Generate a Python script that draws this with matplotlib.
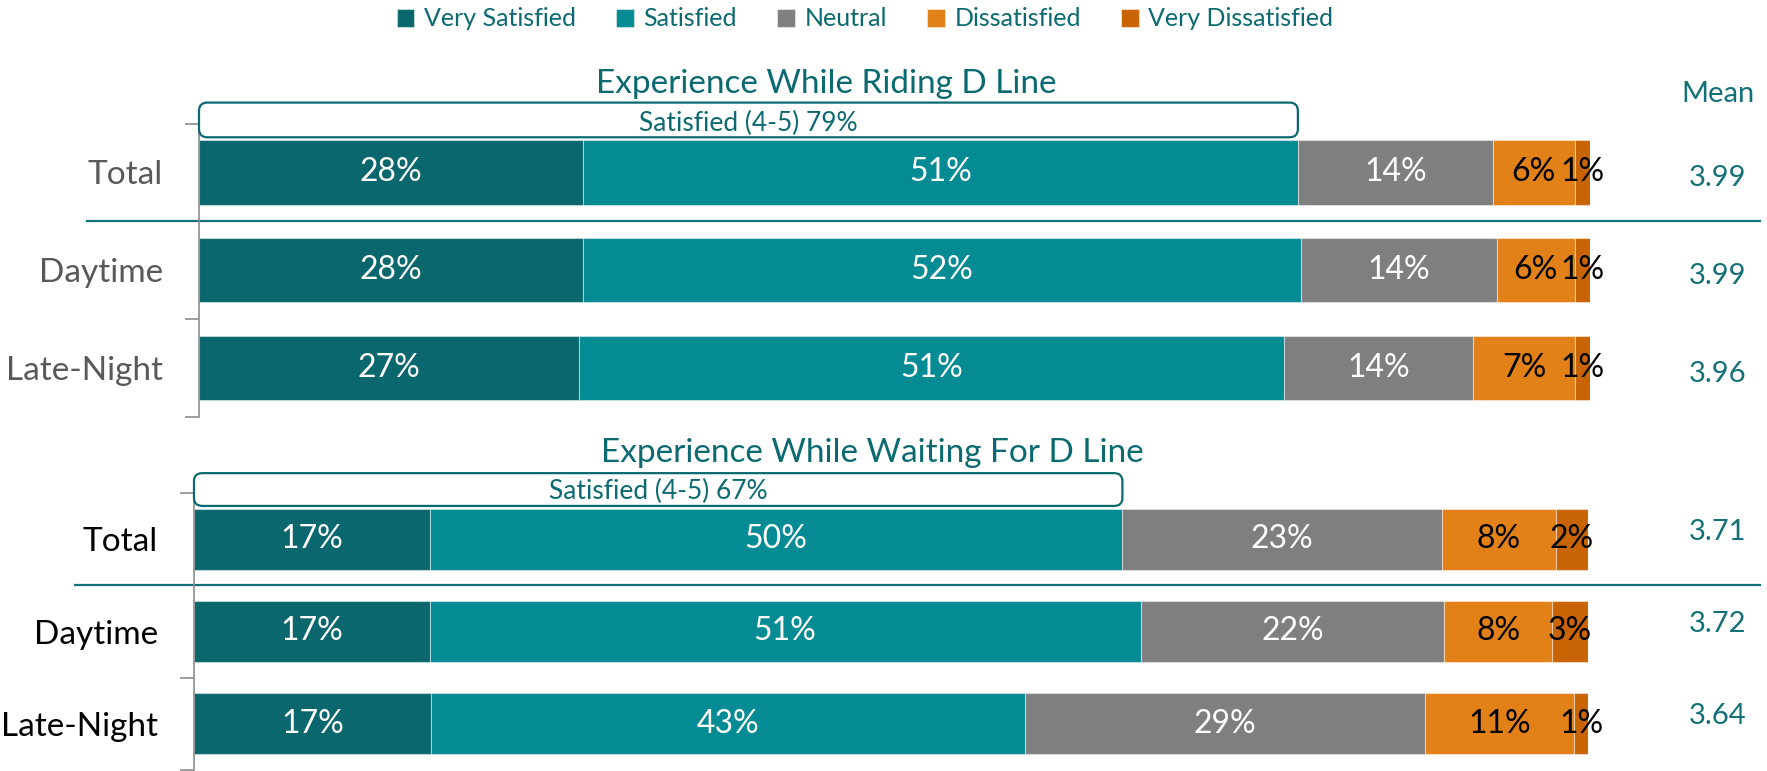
import matplotlib
matplotlib.use('Agg')
import matplotlib.pyplot as plt
import matplotlib.transforms as mtransforms
from matplotlib.patches import FancyBboxPatch
import numpy as np

plt.rcParams['font.family'] = ['Lato', 'DejaVu Sans']

groups = ['Total', 'Daytime', 'Late-Night']
levels = ['Very Satisfied', 'Satisfied', 'Neutral', 'Dissatisfied', 'Very Dissatisfied']

# riding the D line (%)
riding_very_sat = [27.6, 27.6, 27.3]
riding_sat = [51.4, 51.6, 50.7]
riding_neutral = [14.0, 14.1, 13.6]
riding_dissat = [5.9, 5.6, 7.3]
riding_very_dissat = [1.1, 1.1, 1.1]
riding_mean = [3.99, 3.99, 3.96]

# waiting for the D line (%)
waiting_very_sat = [16.9, 16.9, 17.0]
waiting_sat = [49.7, 51.0, 42.6]
waiting_neutral = [22.9, 21.8, 28.7]
waiting_dissat = [8.2, 7.7, 10.7]
waiting_very_dissat = [2.3, 2.6, 1.0]
waiting_mean = [3.71, 3.72, 3.64]

colors = ['#0A676E', '#048B93', '#7F7F7F', '#E18117', '#C86404']
label_colors = ['white', 'white', 'white', 'black', 'black']
teal = '#0B6A70'

W, H = 1767, 771
fig = plt.figure(figsize=(W / 100, H / 100), dpi=100)


def px_axes(x0, x1, y0, y1):
    # pixel box (top-left origin) -> axes
    return fig.add_axes([x0 / W, 1 - y1 / H, (x1 - x0) / W, (y1 - y0) / H])


def draw_panel(ax, series, means, title, title_pos, cat_color, sep_x0, mean_dy, box_text_y):
    left = np.zeros(len(groups))
    handles = []
    for vals, name, col, tcol in zip(series, levels, colors, label_colors):
        vals = np.array(vals)
        bars = ax.barh(range(len(groups)), vals, left=left, height=0.66, color=col,
                       edgecolor=(1, 1, 1, 0.45), linewidth=0.8, label=name)
        ax.bar_label(bars, labels=[f'{round(v)}%' for v in vals], label_type='center',
                     color=tcol, fontsize=23)
        handles.append(bars)
        left = left + vals

    ax.set_xlim(0, 100)
    ax.set_ylim(2.5, -0.5)
    ax.set_yticks(range(len(groups)))
    ax.set_yticklabels(groups, fontsize=24, color=cat_color)
    ax.set_yticks([-0.5, 0.5, 1.5, 2.5], minor=True)
    ax.tick_params(axis='y', which='major', length=0, pad=26)
    ax.tick_params(axis='y', which='minor', length=10, width=1.2, color='#8C8C8C', direction='out')
    ax.set_xticks([])
    for s in ['top', 'right', 'bottom']:
        ax.spines[s].set_visible(False)
    ax.spines['left'].set_color('#8C8C8C')
    ax.spines['left'].set_linewidth(1.2)

    # top-2 box
    top2 = series[0][0] + series[1][0]
    box = FancyBboxPatch((0, -0.715), top2, 0.355,
                         boxstyle='round,pad=0,rounding_size=0.6', mutation_aspect=0.142,
                         facecolor='white', edgecolor=teal, linewidth=1.6, clip_on=False, zorder=3)
    ax.add_patch(box)
    ax.text(top2 / 2, box_text_y, f'Satisfied (4-5) {round(top2)}%', ha='center', va='baseline',
            fontsize=19, color=teal, zorder=4)

    # separator under Total
    tr = mtransforms.blended_transform_factory(fig.transFigure, ax.transData)
    ax.plot([sep_x0 / W, 1760 / W], [0.5, 0.5], color='#13737A', lw=1.6, transform=tr, clip_on=False)

    # means
    for i, m in enumerate(means):
        ax.text(1718 / W, i + mean_dy, f'{m:.2f}', transform=tr, ha='center', va='center',
                fontsize=21, color='#137177')

    fig.text(title_pos[0] / W, 1 - title_pos[1] / H, title, ha='center', va='baseline',
             fontsize=24, color=teal)
    return handles


ax1 = px_axes(199, 1590, 123.6, 416.8)
ax2 = px_axes(194, 1588, 493, 770)

handles = draw_panel(ax1, [riding_very_sat, riding_sat, riding_neutral, riding_dissat, riding_very_dissat],
                     riding_mean, 'Experience While Riding D Line', (826, 93), '#595959', 87, 0.06, -0.42)
draw_panel(ax2, [waiting_very_sat, waiting_sat, waiting_neutral, waiting_dissat, waiting_very_dissat],
           waiting_mean, 'Experience While Waiting For D Line', (872, 462), 'black', 75, -0.08, -0.43)

fig.text(1718 / W, 1 - 94 / H, 'Mean', ha='center', va='center', fontsize=21, color='#137177')

fig.legend(handles, levels, loc='center', bbox_to_anchor=(865 / W, 1 - 19 / H), ncol=5, frameon=False,
           fontsize=18, labelcolor=teal, handlelength=0.7, handleheight=0.7, handletextpad=0.4,
           columnspacing=1.6)

fig.savefig('out.png', dpi=100)
